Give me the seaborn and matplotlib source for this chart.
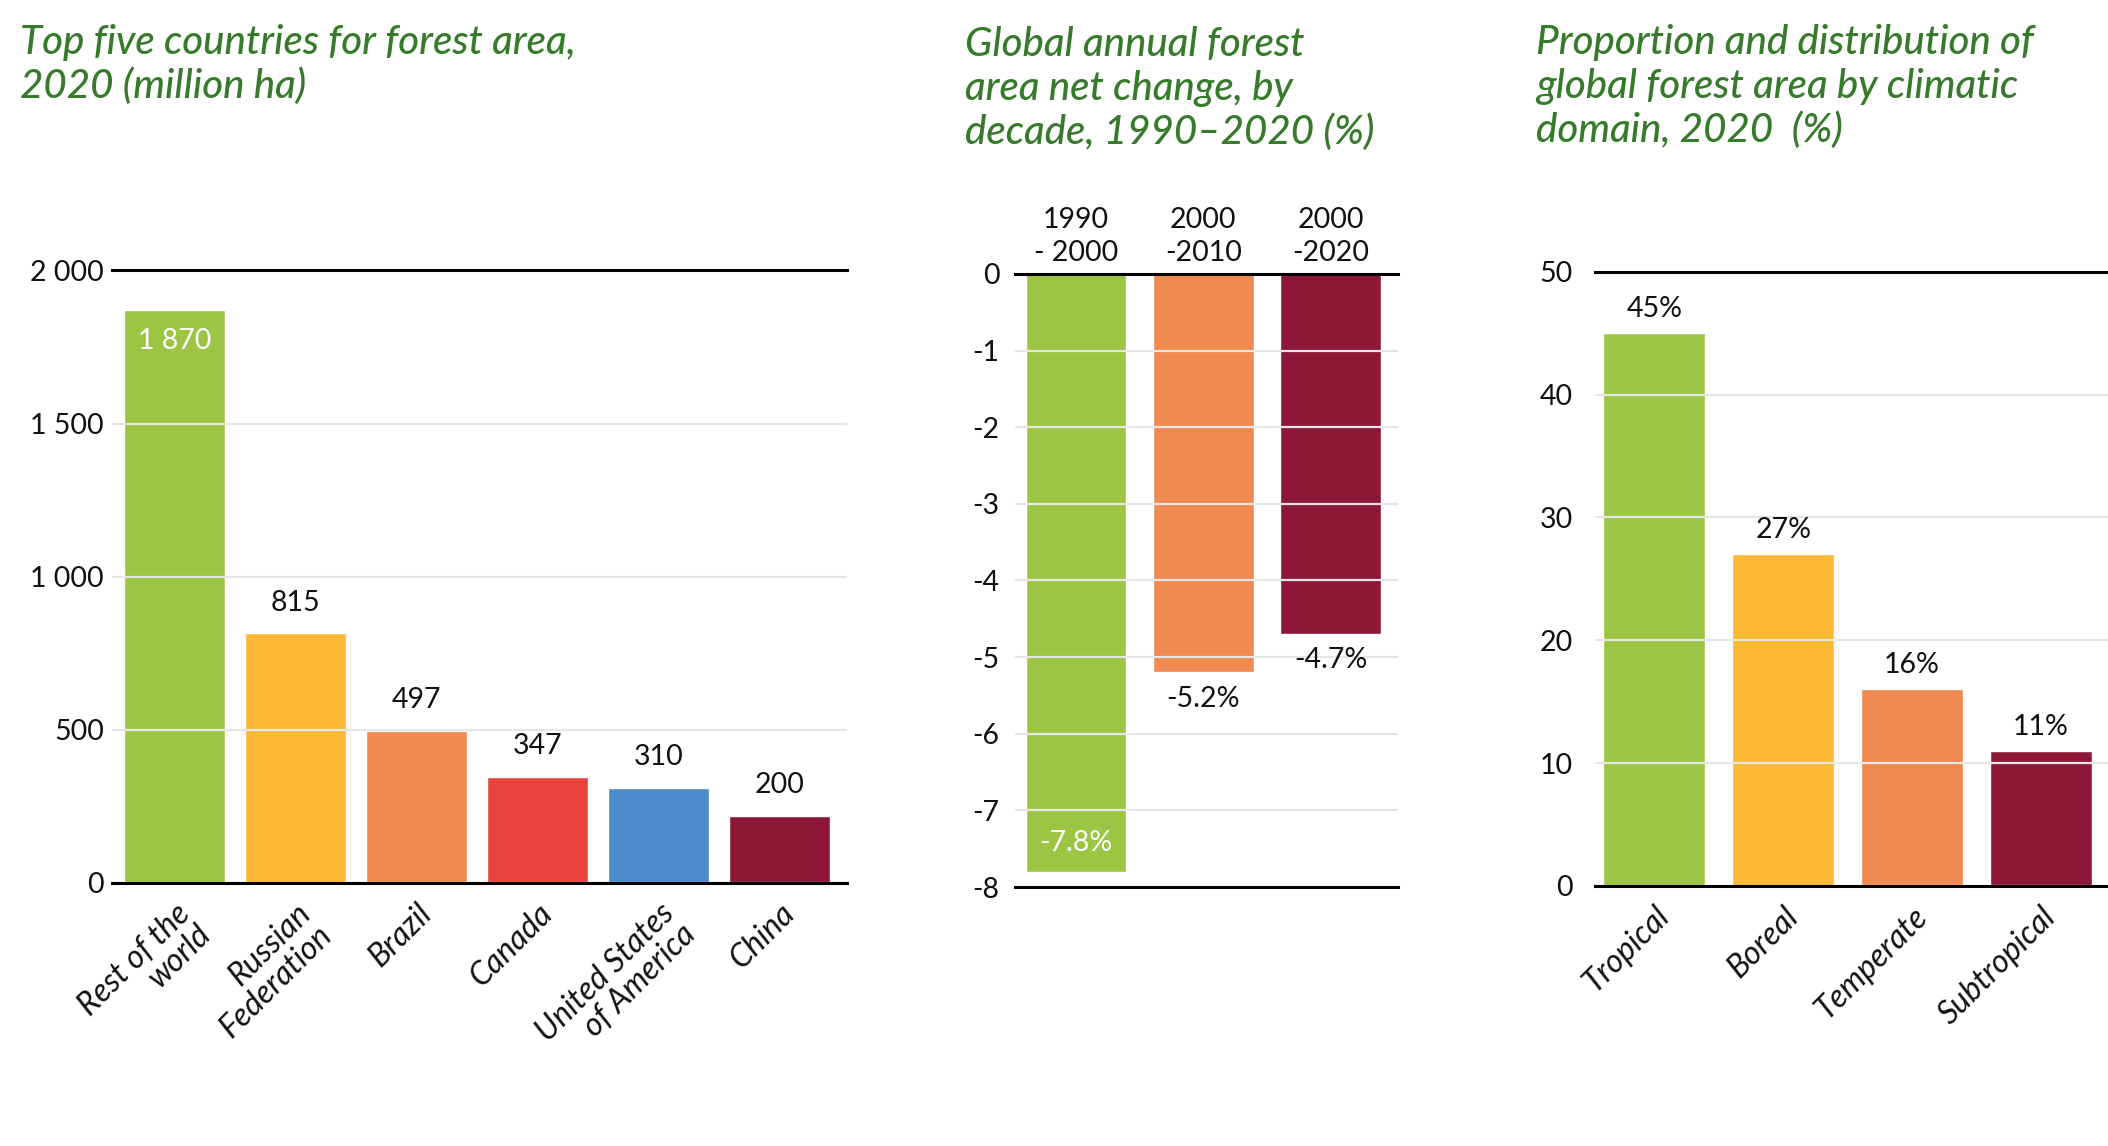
import matplotlib
matplotlib.use("Agg")
import matplotlib.pyplot as plt
import seaborn as sns
import pandas as pd
from matplotlib.ticker import FuncFormatter

# ---------------- data ----------------
countries = ["Rest of the\nworld", "Russian\nFederation", "Brazil", "Canada",
             "United States\nof America", "China"]
forest_area = [1870, 815, 497, 347, 310, 220]
forest_area_labels = ["1 870", "815", "497", "347", "310", "200"]
country_colors = ["#9dc544", "#fbb936", "#f08a50", "#e8433c", "#4d8ac9", "#8c1737"]
area_ticks = [0, 500, 1000, 1500, 2000]

decades = ["1990\n- 2000", "2000\n-2010", "2000\n-2020"]
net_change = [-7.8, -5.2, -4.7]
net_change_labels = ["-7.8%", "-5.2%", "-4.7%"]
decade_colors = ["#9dc544", "#f08a50", "#8c1737"]
change_ticks = [0, -1, -2, -3, -4, -5, -6, -7, -8]

domains = ["Tropical", "Boreal", "Temperate", "Subtropical"]
domain_share = [45, 27, 16, 11]
domain_labels = ["45%", "27%", "16%", "11%"]
domain_colors = ["#9dc544", "#fbb936", "#f08a50", "#8c1737"]
share_ticks = [0, 10, 20, 30, 40, 50]

titles = ["Top five countries for forest area,\n2020 (million ha)",
          "Global annual forest\narea net change, by\ndecade, 1990\u20132020 (%)",
          "Proportion and distribution of\nglobal forest area by climatic\ndomain, 2020  (%)"]

# ---------------- style ----------------
sns.set_theme(style="white")
plt.rcParams["font.family"] = ["Lato", "DejaVu Sans"]
plt.rcParams["axes.unicode_minus"] = False

TITLE_GREEN = "#377a2c"
TICK_FS = 20.5
VALUE_FS = 20.5
XLABEL_FS = 23
GRID_C = "#e6e6e6"
TEXT_C = "#111111"

fig = plt.figure(figsize=(21.08, 11.46), dpi=100)

ax1 = fig.add_axes([0.053, 0.2295, 0.349, 0.5345])
ax2 = fig.add_axes([0.4815, 0.226, 0.1817, 0.535])
ax3 = fig.add_axes([0.7566, 0.2269, 0.2434, 0.536])


def style_axis(ax, ypad):
    for s in ["left", "right"]:
        ax.spines[s].set_visible(False)
    for s in ["top", "bottom"]:
        ax.spines[s].set_visible(True)
        ax.spines[s].set_color("black")
        ax.spines[s].set_linewidth(2.2)
        ax.spines[s].set_zorder(4)
    ax.yaxis.grid(True, color=GRID_C, linewidth=1.6, zorder=3)
    ax.xaxis.grid(False)
    ax.set_axisbelow(False)
    ax.tick_params(axis="y", length=0, pad=ypad, labelsize=TICK_FS, labelcolor=TEXT_C)
    ax.tick_params(axis="x", length=0, labelsize=XLABEL_FS, labelcolor=TEXT_C)
    ax.set_xlabel("")
    ax.set_ylabel("")
    ax.set_facecolor("white")


# ---------------- panel 1 ----------------
df1 = pd.DataFrame({"country": countries, "area": forest_area})
sns.barplot(data=df1, x="country", y="area", hue="country", palette=country_colors,
            width=0.83, saturation=1, legend=False, ax=ax1, zorder=2)
style_axis(ax1, 5.5)
ax1.set_ylim(0, 2000)
ax1.set_xlim(-0.52, 5.56)
ax1.set_yticks(area_ticks)
ax1.yaxis.set_major_formatter(FuncFormatter(lambda v, p: f"{int(v):,}".replace(",", " ")))
ax1.set_xticks(range(len(countries)))
ax1.set_xticklabels(countries, rotation=45, ha="right", va="top", rotation_mode="anchor",
                    fontstyle="italic", multialignment="right", fontsize=XLABEL_FS,
                    linespacing=1.0)
ax1.tick_params(axis="x", pad=11)
for i, (v, t) in enumerate(zip(forest_area, forest_area_labels)):
    if i == 0:
        ax1.annotate(t, (i, v), xytext=(0, -22), textcoords="offset points",
                     ha="center", va="center", color="white", fontsize=VALUE_FS, zorder=5)
    else:
        ax1.annotate(t, (i, v), xytext=(0, 22), textcoords="offset points",
                     ha="center", va="center", color=TEXT_C, fontsize=VALUE_FS, zorder=5)

# ---------------- panel 2 ----------------
df2 = pd.DataFrame({"decade": decades, "change": net_change})
sns.barplot(data=df2, x="decade", y="change", hue="decade", palette=decade_colors,
            width=0.79, saturation=1, legend=False, ax=ax2, zorder=2)
style_axis(ax2, 11)
ax2.set_ylim(-8, 0)
ax2.set_xlim(-0.48, 2.53)
ax2.set_yticks(change_ticks)
ax2.yaxis.set_major_formatter(FuncFormatter(lambda v, p: f"{int(round(v))}"))
ax2.xaxis.tick_top()
ax2.set_xticks(range(len(decades)))
ax2.set_xticklabels(decades, fontsize=VALUE_FS, linespacing=1.3)
ax2.tick_params(axis="x", top=False, bottom=False, labeltop=True, labelbottom=False, pad=6)
for i, (v, t) in enumerate(zip(net_change, net_change_labels)):
    if i == 0:
        ax2.annotate(t, (i, v), xytext=(0, 21), textcoords="offset points",
                     ha="center", va="center", color="white", fontsize=VALUE_FS, zorder=5)
    else:
        ax2.annotate(t, (i, v), xytext=(0, -19), textcoords="offset points",
                     ha="center", va="center", color=TEXT_C, fontsize=VALUE_FS, zorder=5)

# ---------------- panel 3 ----------------
df3 = pd.DataFrame({"domain": domains, "share": domain_share})
sns.barplot(data=df3, x="domain", y="share", hue="domain", palette=domain_colors,
            width=0.79, saturation=1, legend=False, ax=ax3, zorder=2)
style_axis(ax3, 16)
ax3.set_ylim(0, 50)
ax3.set_xlim(-0.46, 3.52)
ax3.set_yticks(share_ticks)
ax3.set_xticks(range(len(domains)))
ax3.set_xticklabels(domains, rotation=45, ha="right", va="top", rotation_mode="anchor",
                    fontstyle="italic", fontsize=XLABEL_FS)
ax3.tick_params(axis="x", pad=11)
for i, (v, t) in enumerate(zip(domain_share, domain_labels)):
    ax3.annotate(t, (i, v), xytext=(0, 17.5), textcoords="offset points",
                 ha="center", va="center", color=TEXT_C, fontsize=VALUE_FS, zorder=5)

# ---------------- titles ----------------
title_pos = [(20 / 2108, 1 - 24 / 1146), (965 / 2108, 1 - 26 / 1146), (1536 / 2108, 1 - 24 / 1146)]
for (x, y), t in zip(title_pos, titles):
    fig.text(x, y, t, ha="left", va="top", fontsize=29, fontstyle="italic",
             fontweight="medium", color=TITLE_GREEN, linespacing=1.22)

fig.savefig("out.png", dpi=100, facecolor="white")
